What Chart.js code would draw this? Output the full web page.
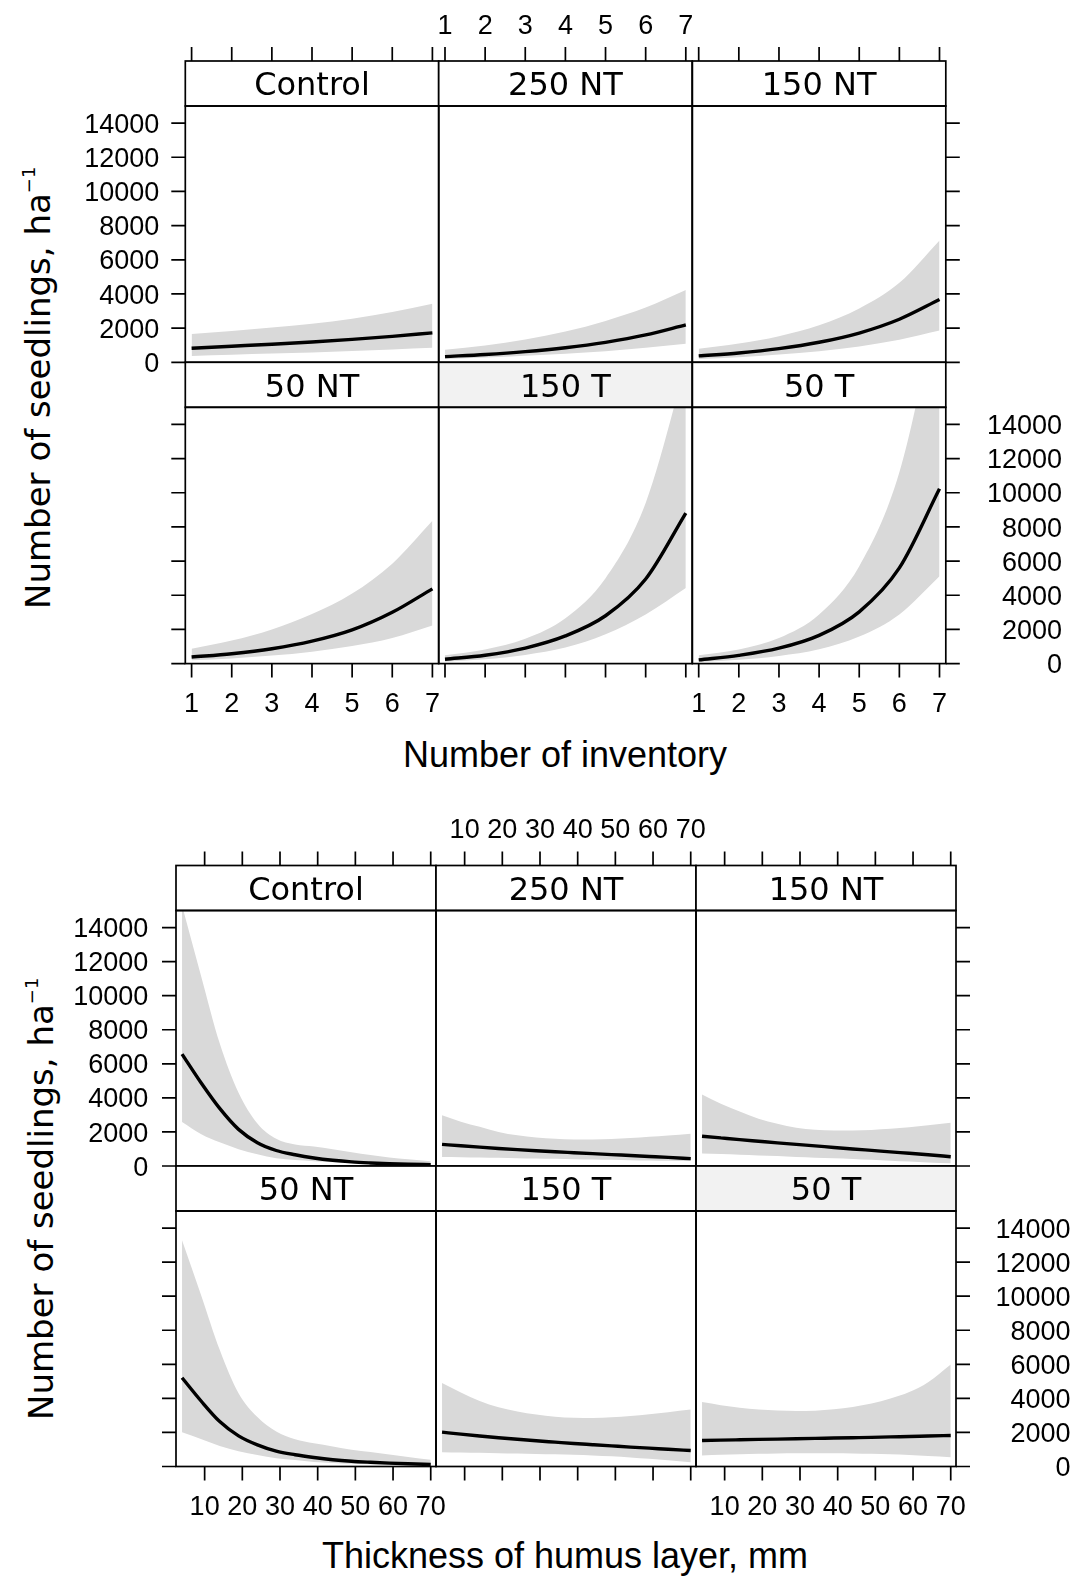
<!DOCTYPE html>
<html>
<head>
<meta charset="utf-8">
<title>Seedlings by inventory and humus layer</title>
<script src="https://cdn.jsdelivr.net/npm/chart.js@4.4.1/dist/chart.umd.min.js"></script>
<style>
  html, body { margin: 0; padding: 0; background: #fff; }
  body { width: 1070px; height: 1578px; position: relative; overflow: hidden; }
  canvas { position: absolute; }
  .xtitle { position: absolute; left: 0; width: 1130px; text-align: center; color: #000;
            font: 36px 'Liberation Sans', Arial, sans-serif; line-height: 40px; white-space: nowrap; }
  .ytitle { position: absolute; transform-origin: 0 0; transform: rotate(-90deg); color: #000;
            font: 34px 'DejaVu Sans', sans-serif; line-height: 40px; white-space: nowrap; }
  .ytitle .sup { font-size: 18px; position: relative; top: -15px; }
</style>
</head>
<body>
<div class="ytitle" style="left:17.7px;top:608.5px">Number of seedlings, ha<span class="sup">−1</span></div>
<div class="xtitle" style="top:734.8px">Number of inventory</div>
<div class="ytitle" style="left:21.2px;top:1420px">Number of seedlings, ha<span class="sup">−1</span></div>
<div class="xtitle" style="top:1535.5px">Thickness of humus layer, mm</div>

<script>
// --- DATA ---
const panelNames = ['Control', '250 NT', '150 NT', '50 NT', '150 T', '50 T'];
const yTicks = [0, 2000, 4000, 6000, 8000, 10000, 12000, 14000];

// top figure: number of inventory
const invX = [1, 2, 3, 4, 5, 6, 7];
const invTicks = [1, 2, 3, 4, 5, 6, 7];
const invControlFit  = [820, 940, 1060, 1190, 1340, 1520, 1720];
const invControlLow  = [375, 440, 510, 580, 660, 750, 845];
const invControlHigh = [1660, 1830, 2030, 2260, 2550, 2940, 3420];
const inv250NTFit  = [334, 457, 625, 855, 1170, 1600, 2190];
const inv250NTLow  = [200, 280, 380, 500, 650, 850, 1080];
const inv250NTHigh = [730, 990, 1330, 1800, 2420, 3200, 4230];
const inv150NTFit  = [375, 548, 802, 1172, 1713, 2520, 3670];
const inv150NTLow  = [200, 300, 450, 650, 930, 1320, 1860];
const inv150NTHigh = [790, 1100, 1530, 2170, 3150, 4650, 7130];
const inv50NTFit  = [385, 580, 870, 1310, 1970, 3000, 4375];
const inv50NTLow  = [190, 300, 470, 700, 1030, 1500, 2230];
const inv50NTHigh = [875, 1350, 2000, 2900, 4100, 5850, 8360];
const inv150TFit  = [255, 490, 910, 1620, 2800, 4950, 8810];
const inv150TLow  = [115, 255, 505, 935, 1715, 2880, 4430];
const inv150THigh = [490, 830, 1450, 2650, 5000, 9400, 17500];
const inv50TFit  = [215, 480, 900, 1650, 3030, 5600, 10230];
const inv50TLow  = [100, 230, 450, 840, 1580, 2880, 5115];
const inv50THigh = [490, 830, 1500, 2880, 5700, 11200, 21500];

// bottom figure: thickness of humus layer, mm
const humX = [4, 9, 14, 19, 24, 29, 34, 39, 44, 49, 54, 59, 64, 70];
const humTicks = [10, 20, 30, 40, 50, 60, 70];
const humControlFit  = [6570, 4900, 3380, 2150, 1370, 910, 660, 470, 335, 240, 180, 135, 105, 80];
const humControlLow  = [2590, 1880, 1390, 990, 690, 460, 350, 285, 225, 175, 140, 100, 65, 30];
const humControlHigh = [15300, 11200, 7200, 4300, 2500, 1600, 1260, 1140, 990, 810, 640, 500, 390, 275];
const hum250NTFit  = [1272, 1185, 1105, 1030, 960, 895, 835, 780, 725, 670, 615, 560, 505, 435];
const hum250NTLow  = [530, 520, 500, 480, 460, 440, 420, 400, 380, 360, 340, 320, 305, 290];
const hum250NTHigh = [2980, 2600, 2300, 2000, 1800, 1680, 1600, 1560, 1560, 1590, 1640, 1710, 1790, 1900];
const hum150NTFit  = [1750, 1650, 1550, 1455, 1360, 1270, 1180, 1090, 1000, 915, 830, 745, 660, 545];
const hum150NTLow  = [730, 700, 660, 620, 580, 530, 490, 450, 410, 360, 310, 260, 210, 160];
const hum150NTHigh = [4200, 3650, 3200, 2780, 2480, 2250, 2130, 2090, 2090, 2120, 2180, 2270, 2390, 2540];
const hum50NTFit  = [5210, 3860, 2640, 1800, 1270, 900, 690, 530, 400, 310, 250, 200, 160, 120];
const hum50NTLow  = [2015, 1620, 1210, 900, 680, 490, 380, 270, 210, 160, 130, 100, 80, 60];
const hum50NTHigh = [13280, 10100, 6850, 4300, 2900, 2050, 1600, 1360, 1180, 990, 850, 700, 560, 390];
const hum150TFit  = [2015, 1900, 1790, 1690, 1600, 1510, 1430, 1350, 1280, 1210, 1140, 1080, 1010, 940];
const hum150TLow  = [840, 820, 800, 780, 760, 740, 715, 690, 650, 600, 530, 450, 360, 250];
const hum150THigh = [4900, 4350, 3850, 3480, 3230, 3050, 2920, 2860, 2850, 2890, 2970, 3070, 3190, 3340];
const hum50TFit  = [1530, 1550, 1570, 1590, 1610, 1630, 1650, 1670, 1690, 1710, 1740, 1760, 1790, 1820];
const hum50TLow  = [645, 690, 720, 750, 770, 780, 785, 780, 770, 750, 720, 680, 620, 550];
const hum50THigh = [3780, 3600, 3450, 3350, 3290, 3260, 3280, 3360, 3500, 3700, 3990, 4370, 4950, 5990];

const invPanels = [
  [invControlFit, invControlLow, invControlHigh],
  [inv250NTFit, inv250NTLow, inv250NTHigh],
  [inv150NTFit, inv150NTLow, inv150NTHigh],
  [inv50NTFit, inv50NTLow, inv50NTHigh],
  [inv150TFit, inv150TLow, inv150THigh],
  [inv50TFit, inv50TLow, inv50THigh]
];
const humPanels = [
  [humControlFit, humControlLow, humControlHigh],
  [hum250NTFit, hum250NTLow, hum250NTHigh],
  [hum150NTFit, hum150NTLow, hum150NTHigh],
  [hum50NTFit, hum50NTLow, hum50NTHigh],
  [hum150TFit, hum150TLow, hum150THigh],
  [hum50TFit, hum50TLow, hum50THigh]
];

// --- LAYOUT (lattice 3x2 panels per figure) ---
const figures = [
  { x: invX, ticks: invTicks, xMin: 0.843, xMax: 7.157, panels: invPanels,
    colX: [185.3, 438.7, 692.4], colW: 253.4, rowTop: [106, 407.3], dataH: 256.3,
    stripH: 45, shaded: 4, leftGap: 26, rightEdge: 116.3 },
  { x: humX, ticks: humTicks, xMin: 2.4, xMax: 71.4, panels: humPanels,
    colX: [176, 436, 696], colW: 260, rowTop: [910.5, 1211], dataH: 255.5,
    stripH: 45, shaded: 5, leftGap: 27.7, rightEdge: 114.5 }
];

const BAND = '#d9d9d9';
const STRIP_GREY = '#f2f2f2';
const TICK_LEN = 14;
const TICK_FONT = '27px "Liberation Sans", Arial, sans-serif';
const STRIP_FONT = '32px "DejaVu Sans", sans-serif';

// draws frame, strip, ticks and tick labels from the chart's own scales
const latticePanel = {
  id: 'latticePanel',
  afterDraw(chart, args, o) {
    const { ctx, chartArea: a } = chart;
    const xs = chart.scales.x, ys = chart.scales.y;
    const sTop = a.top - o.stripH;
    ctx.save();
    ctx.lineWidth = 1.7;
    ctx.strokeStyle = '#000';

    // strip
    ctx.fillStyle = o.stripFill;
    ctx.fillRect(a.left, sTop, a.right - a.left, o.stripH);
    ctx.strokeRect(a.left, sTop, a.right - a.left, o.stripH);
    ctx.strokeRect(a.left, a.top, a.right - a.left, a.bottom - a.top);
    ctx.fillStyle = '#000';
    ctx.font = STRIP_FONT;
    ctx.textAlign = 'center';
    ctx.textBaseline = 'alphabetic';
    ctx.fillText(o.label, (a.left + a.right) / 2, sTop + o.stripH / 2 + 11.7);

    // tick marks
    ctx.beginPath();
    o.xTicks.forEach(v => {
      const px = xs.getPixelForValue(v);
      if (o.top) { ctx.moveTo(px, sTop); ctx.lineTo(px, sTop - TICK_LEN); }
      if (o.bottom) { ctx.moveTo(px, a.bottom); ctx.lineTo(px, a.bottom + TICK_LEN); }
    });
    yTicks.forEach(v => {
      const py = ys.getPixelForValue(v);
      if (o.left) { ctx.moveTo(a.left, py); ctx.lineTo(a.left - TICK_LEN, py); }
      if (o.right) { ctx.moveTo(a.right, py); ctx.lineTo(a.right + TICK_LEN, py); }
    });
    ctx.stroke();

    // tick labels (alternating, lattice style)
    ctx.font = TICK_FONT;
    if (o.topLabels || o.bottomLabels) {
      ctx.textAlign = 'center';
      o.xTicks.forEach(v => {
        const px = xs.getPixelForValue(v);
        if (o.topLabels) ctx.fillText(String(v), px, sTop - 27.5);
        if (o.bottomLabels) ctx.fillText(String(v), px, a.bottom + 48.3);
      });
    }
    yTicks.forEach(v => {
      const py = ys.getPixelForValue(v) + 9.6;
      ctx.textAlign = 'right';
      if (o.leftLabels) ctx.fillText(String(v), a.left - o.leftGap, py);
      if (o.rightLabels) ctx.fillText(String(v), a.right + o.rightEdge, py);
    });
    ctx.restore();
  }
};

function pts(xv, yv) {
  return xv.map((x, i) => ({ x: x, y: yv[i] }));
}

function makePanel(fig, i) {
  const col = i % 3, row = Math.floor(i / 3);
  const left = fig.colX[col], top = fig.rowTop[row];
  const w = fig.colW, h = fig.dataH;
  const cx = Math.floor(left - 140), cy = Math.floor(top - 110);
  const W = Math.ceil(left + w + 140) - cx, H = Math.ceil(top + h + 70) - cy;

  const canvas = document.createElement('canvas');
  canvas.width = W; canvas.height = H;
  canvas.style.left = cx + 'px'; canvas.style.top = cy + 'px';
  canvas.style.width = W + 'px'; canvas.style.height = H + 'px';
  document.body.appendChild(canvas);

  const [fit, low, high] = fig.panels[i];
  const smooth = { pointRadius: 0, cubicInterpolationMode: 'monotone' };

  new Chart(canvas, {
    type: 'line',
    data: {
      datasets: [
        { data: pts(fig.x, high), borderWidth: 0, borderColor: 'rgba(0,0,0,0)', backgroundColor: BAND, fill: '+1', order: 2, ...smooth },
        { data: pts(fig.x, low), borderWidth: 0, borderColor: 'rgba(0,0,0,0)', fill: false, order: 2, ...smooth },
        { data: pts(fig.x, fit), borderWidth: 3.4, borderColor: '#000', fill: false, order: 1, ...smooth }
      ]
    },
    options: {
      responsive: false,
      animation: false,
      events: [],
      devicePixelRatio: 1,
      layout: { padding: { left: left - cx, top: top - cy, right: W - (left - cx) - w, bottom: H - (top - cy) - h } },
      scales: {
        x: { type: 'linear', display: false, min: fig.xMin, max: fig.xMax },
        y: { type: 'linear', display: false, min: 0, max: 15000 }
      },
      plugins: {
        legend: { display: false },
        tooltip: { enabled: false },
        latticePanel: {
          label: panelNames[i],
          stripH: fig.stripH,
          stripFill: i === fig.shaded ? STRIP_GREY : '#ffffff',
          xTicks: fig.ticks,
          top: row === 0, bottom: row === 1,
          left: col === 0, right: col === 2,
          topLabels: row === 0 && col === 1,
          bottomLabels: row === 1 && col !== 1,
          leftLabels: row === 0 && col === 0,
          rightLabels: row === 1 && col === 2,
          leftGap: fig.leftGap, rightEdge: fig.rightEdge
        }
      }
    },
    plugins: [latticePanel]
  });
}

figures.forEach(fig => {
  for (let i = 0; i < 6; i++) makePanel(fig, i);
});
</script>
</body>
</html>
